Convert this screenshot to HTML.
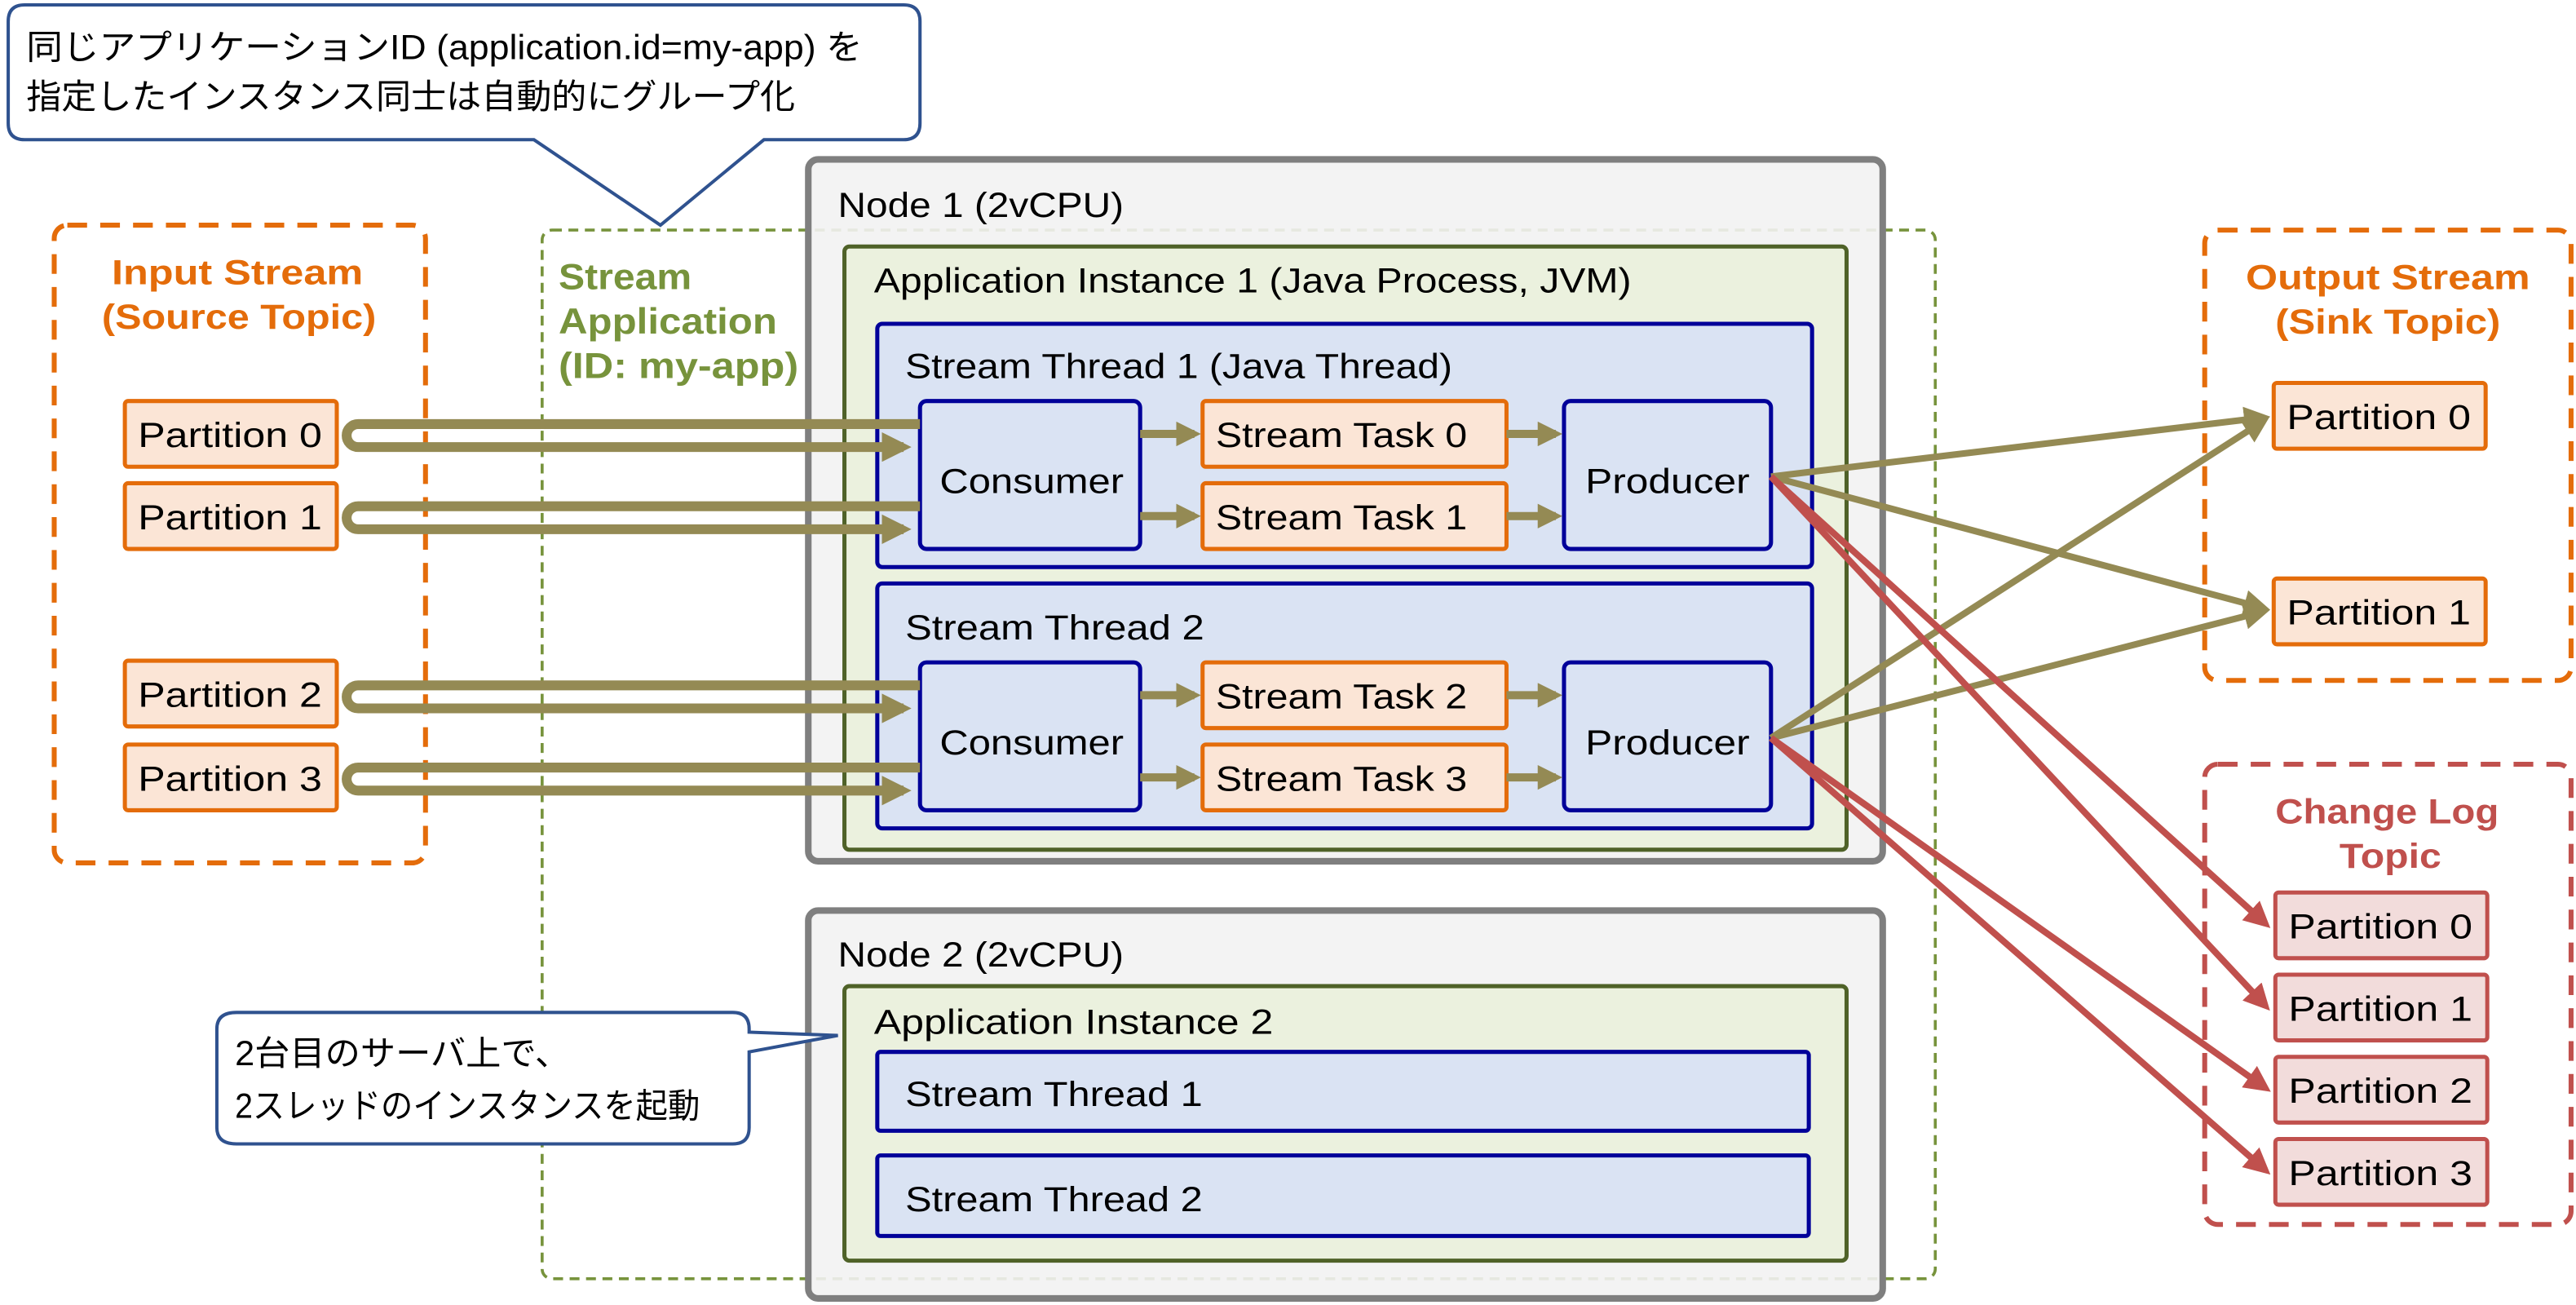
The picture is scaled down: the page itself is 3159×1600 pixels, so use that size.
<!DOCTYPE html>
<html><head><meta charset="utf-8"><style>
html,body{margin:0;padding:0;background:#fff}
svg{display:block}
text{font-family:"Liberation Sans","Noto Sans CJK JP",sans-serif;fill:#000}
</style></head><body>
<svg width="3159" height="1600" viewBox="0 0 1568 794" preserveAspectRatio="none" xmlns="http://www.w3.org/2000/svg">
<defs>
<marker id="ao" markerWidth="4" markerHeight="4" refX="3" refY="2" orient="auto" markerUnits="strokeWidth"><path d="M0,0 L4,2 L0,4 z" fill="#948A54"/></marker>
<marker id="ao2" markerWidth="3" markerHeight="3" refX="2.2" refY="1.5" orient="auto" markerUnits="strokeWidth"><path d="M0,0 L3,1.5 L0,3 z" fill="#948A54"/></marker>
<marker id="ar" markerWidth="4" markerHeight="4" refX="3" refY="2" orient="auto" markerUnits="strokeWidth"><path d="M0,0 L4,2 L0,4 z" fill="#C0504D"/></marker>
</defs>
<!-- Input stream -->
<rect x="33" y="137" width="226" height="388" rx="8" fill="none" stroke="#E46C0A" stroke-width="3" stroke-dasharray="12,8"/>
<text x="68" y="173" font-size="21" font-weight="bold" textLength="153" lengthAdjust="spacingAndGlyphs" style="fill:#E46C0A">Input Stream</text>
<text x="62" y="200" font-size="21" font-weight="bold" textLength="167" lengthAdjust="spacingAndGlyphs" style="fill:#E46C0A">(Source Topic)</text>
<!-- Stream application -->
<rect x="330" y="140" width="848" height="638" rx="6" fill="none" stroke="#77933C" stroke-width="1.8" stroke-dasharray="6,4"/>
<text x="340" y="176" font-size="22" font-weight="bold" textLength="81" lengthAdjust="spacingAndGlyphs" style="fill:#77933C">Stream</text>
<text x="340" y="203" font-size="22" font-weight="bold" textLength="133" lengthAdjust="spacingAndGlyphs" style="fill:#77933C">Application</text>
<text x="340" y="230" font-size="22" font-weight="bold" textLength="146" lengthAdjust="spacingAndGlyphs" style="fill:#77933C">(ID: my-app)</text>
<!-- Node1 -->
<rect x="492" y="97" width="654" height="427" rx="6" fill="#F2F2F2" fill-opacity="0.9" stroke="#7F7F7F" stroke-width="4"/>
<text x="510" y="132" font-size="21" textLength="174" lengthAdjust="spacingAndGlyphs">Node 1 (2vCPU)</text>
<rect x="514" y="150" width="610" height="367" rx="3" fill="#EBF1DE" stroke="#4F6228" stroke-width="2.5"/>
<text x="532" y="178" font-size="21" textLength="461" lengthAdjust="spacingAndGlyphs">Application Instance 1 (Java Process, JVM)</text>
<rect x="534" y="197" width="569" height="148" rx="3" fill="#DAE3F3" stroke="#000099" stroke-width="2.5"/>
<text x="551" y="230" font-size="21" textLength="333" lengthAdjust="spacingAndGlyphs">Stream Thread 1 (Java Thread)</text>
<rect x="534" y="355" width="569" height="149" rx="3" fill="#DAE3F3" stroke="#000099" stroke-width="2.5"/>
<text x="551" y="389" font-size="21" textLength="182" lengthAdjust="spacingAndGlyphs">Stream Thread 2</text>
<g font-size="21">
<rect x="560" y="244" width="134" height="90" rx="4" fill="#DAE3F3" stroke="#000099" stroke-width="2.5"/>
<text x="572" y="300" textLength="112" lengthAdjust="spacingAndGlyphs">Consumer</text>
<rect x="560" y="403" width="134" height="90" rx="4" fill="#DAE3F3" stroke="#000099" stroke-width="2.5"/>
<text x="572" y="459" textLength="112" lengthAdjust="spacingAndGlyphs">Consumer</text>
<rect x="952" y="244" width="126" height="90" rx="4" fill="#DAE3F3" stroke="#000099" stroke-width="2.5"/>
<text x="965" y="300" textLength="100" lengthAdjust="spacingAndGlyphs">Producer</text>
<rect x="952" y="403" width="126" height="90" rx="4" fill="#DAE3F3" stroke="#000099" stroke-width="2.5"/>
<text x="965" y="459" textLength="100" lengthAdjust="spacingAndGlyphs">Producer</text>
<rect x="732" y="244" width="185" height="40" rx="2" fill="#FBE5D6" stroke="#E46C0A" stroke-width="2.5"/>
<text x="740" y="272" textLength="153" lengthAdjust="spacingAndGlyphs">Stream Task 0</text>
<rect x="732" y="294" width="185" height="40" rx="2" fill="#FBE5D6" stroke="#E46C0A" stroke-width="2.5"/>
<text x="740" y="322" textLength="153" lengthAdjust="spacingAndGlyphs">Stream Task 1</text>
<rect x="732" y="403" width="185" height="40" rx="2" fill="#FBE5D6" stroke="#E46C0A" stroke-width="2.5"/>
<text x="740" y="431" textLength="153" lengthAdjust="spacingAndGlyphs">Stream Task 2</text>
<rect x="732" y="453" width="185" height="40" rx="2" fill="#FBE5D6" stroke="#E46C0A" stroke-width="2.5"/>
<text x="740" y="481" textLength="153" lengthAdjust="spacingAndGlyphs">Stream Task 3</text>
</g>
<g stroke="#948A54" stroke-width="5" marker-end="url(#ao2)">
<line x1="694" y1="264" x2="727" y2="264"/><line x1="694" y1="314" x2="727" y2="314"/>
<line x1="694" y1="423" x2="727" y2="423"/><line x1="694" y1="473" x2="727" y2="473"/>
<line x1="917" y1="264" x2="947" y2="264"/><line x1="917" y1="314" x2="947" y2="314"/>
<line x1="917" y1="423" x2="947" y2="423"/><line x1="917" y1="473" x2="947" y2="473"/>
</g>
<!-- Node2 -->
<rect x="492" y="554" width="654" height="236" rx="6" fill="#F2F2F2" fill-opacity="0.9" stroke="#7F7F7F" stroke-width="4"/>
<text x="510" y="588" font-size="21" textLength="174" lengthAdjust="spacingAndGlyphs">Node 2 (2vCPU)</text>
<rect x="514" y="600" width="610" height="167" rx="3" fill="#EBF1DE" stroke="#4F6228" stroke-width="2.5"/>
<text x="532" y="629" font-size="21" textLength="243" lengthAdjust="spacingAndGlyphs">Application Instance 2</text>
<rect x="534" y="640" width="567" height="48" rx="2" fill="#DAE3F3" stroke="#000099" stroke-width="2.5"/>
<text x="551" y="673" font-size="21" textLength="181" lengthAdjust="spacingAndGlyphs">Stream Thread 1</text>
<rect x="534" y="703" width="567" height="49" rx="2" fill="#DAE3F3" stroke="#000099" stroke-width="2.5"/>
<text x="551" y="737" font-size="21" textLength="181" lengthAdjust="spacingAndGlyphs">Stream Thread 2</text>
<!-- input partitions -->
<g font-size="21">
<rect x="76" y="244" width="129" height="40" rx="2" fill="#FBE5D6" stroke="#E46C0A" stroke-width="2.5"/><text x="84" y="272" textLength="112" lengthAdjust="spacingAndGlyphs">Partition 0</text>
<rect x="76" y="294" width="129" height="40" rx="2" fill="#FBE5D6" stroke="#E46C0A" stroke-width="2.5"/><text x="84" y="322" textLength="112" lengthAdjust="spacingAndGlyphs">Partition 1</text>
<rect x="76" y="402" width="129" height="40" rx="2" fill="#FBE5D6" stroke="#E46C0A" stroke-width="2.5"/><text x="84" y="430" textLength="112" lengthAdjust="spacingAndGlyphs">Partition 2</text>
<rect x="76" y="453" width="129" height="40" rx="2" fill="#FBE5D6" stroke="#E46C0A" stroke-width="2.5"/><text x="84" y="481" textLength="112" lengthAdjust="spacingAndGlyphs">Partition 3</text>
</g>
<g fill="none" stroke="#948A54" stroke-width="6">
<path d="M560,258 H218 A7,7 0 0 0 218,272 H550" marker-end="url(#ao2)"/>
<path d="M560,308 H218 A7,7 0 0 0 218,322 H550" marker-end="url(#ao2)"/>
<path d="M560,417 H218 A7,7 0 0 0 218,431 H550" marker-end="url(#ao2)"/>
<path d="M560,467 H218 A7,7 0 0 0 218,481 H550" marker-end="url(#ao2)"/>
</g>
<!-- output -->
<rect x="1342" y="140" width="223" height="274" rx="8" fill="none" stroke="#E46C0A" stroke-width="3" stroke-dasharray="12,8"/>
<text x="1367" y="176" font-size="21" font-weight="bold" textLength="173" lengthAdjust="spacingAndGlyphs" style="fill:#E46C0A">Output Stream</text>
<text x="1385" y="203" font-size="21" font-weight="bold" textLength="137" lengthAdjust="spacingAndGlyphs" style="fill:#E46C0A">(Sink Topic)</text>
<rect x="1342" y="465" width="223" height="280" rx="8" fill="none" stroke="#C0504D" stroke-width="3" stroke-dasharray="12,8"/>
<text x="1385" y="501" font-size="21" font-weight="bold" textLength="136" lengthAdjust="spacingAndGlyphs" style="fill:#C0504D">Change Log</text>
<text x="1424" y="528" font-size="21" font-weight="bold" textLength="62" lengthAdjust="spacingAndGlyphs" style="fill:#C0504D">Topic</text>
<g font-size="21">
<rect x="1384" y="233" width="129" height="40" rx="2" fill="#FBE5D6" stroke="#E46C0A" stroke-width="2.5"/><text x="1392" y="261" textLength="112" lengthAdjust="spacingAndGlyphs">Partition 0</text>
<rect x="1384" y="352" width="129" height="40" rx="2" fill="#FBE5D6" stroke="#E46C0A" stroke-width="2.5"/><text x="1392" y="380" textLength="112" lengthAdjust="spacingAndGlyphs">Partition 1</text>
<rect x="1385" y="543" width="129" height="40" rx="2" fill="#F2DCDB" stroke="#C0504D" stroke-width="2.5"/><text x="1393" y="571" textLength="112" lengthAdjust="spacingAndGlyphs">Partition 0</text>
<rect x="1385" y="593" width="129" height="40" rx="2" fill="#F2DCDB" stroke="#C0504D" stroke-width="2.5"/><text x="1393" y="621" textLength="112" lengthAdjust="spacingAndGlyphs">Partition 1</text>
<rect x="1385" y="643" width="129" height="40" rx="2" fill="#F2DCDB" stroke="#C0504D" stroke-width="2.5"/><text x="1393" y="671" textLength="112" lengthAdjust="spacingAndGlyphs">Partition 2</text>
<rect x="1385" y="693" width="129" height="40" rx="2" fill="#F2DCDB" stroke="#C0504D" stroke-width="2.5"/><text x="1393" y="721" textLength="112" lengthAdjust="spacingAndGlyphs">Partition 3</text>
</g>
<g stroke="#948A54" stroke-width="4" marker-end="url(#ao)">
<line x1="1078" y1="290" x2="1378" y2="254"/>
<line x1="1078" y1="290" x2="1378" y2="370"/>
<line x1="1078" y1="449" x2="1378" y2="256"/>
<line x1="1078" y1="449" x2="1378" y2="372"/>
</g>
<g stroke="#C0504D" stroke-width="4" marker-end="url(#ar)">
<line x1="1078" y1="290" x2="1379" y2="562"/>
<line x1="1078" y1="290" x2="1379" y2="612"/>
<line x1="1078" y1="449" x2="1379" y2="662"/>
<line x1="1078" y1="449" x2="1379" y2="712"/>
</g>
<!-- callouts -->
<path d="M15,3 H550 Q560,3 560,13 V75 Q560,85 550,85 H465 L402,137 L325,85 H15 Q5,85 5,75 V13 Q5,3 15,3 Z" fill="#fff" stroke="#2F528F" stroke-width="2"/>
<text x="16" y="36" font-size="21" textLength="509" lengthAdjust="spacingAndGlyphs">同じアプリケーションID (application.id=my-app) を</text>
<text x="16" y="66" font-size="21" textLength="468" lengthAdjust="spacingAndGlyphs">指定したインスタンス同士は自動的にグループ化</text>
<path d="M144,616 H446 Q456,616 456,626 V628 L510,630 L456,640 V686 Q456,696 446,696 H144 Q132,696 132,686 V626 Q132,616 144,616 Z" fill="#fff" stroke="#2F528F" stroke-width="2"/>
<text x="143" y="648" font-size="21" textLength="204" lengthAdjust="spacingAndGlyphs">2台目のサーバ上で、</text>
<text x="143" y="680" font-size="21" textLength="283" lengthAdjust="spacingAndGlyphs">2スレッドのインスタンスを起動</text>
</svg>
</body></html>
